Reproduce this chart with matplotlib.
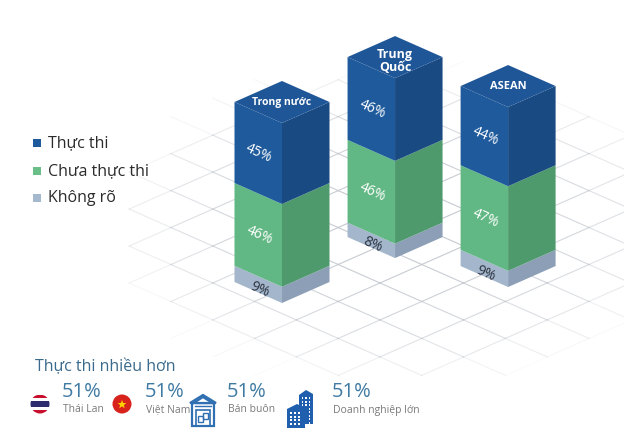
import numpy as np
import matplotlib
matplotlib.use('Agg')
import matplotlib.pyplot as plt
from matplotlib.patches import Polygon, Circle, Rectangle

plt.rcParams['font.family'] = ['Open Sans', 'DejaVu Sans']

# data
regions = ['Trong nước', 'Trung\nQuốc', 'ASEAN']
series = ['Thực thi', 'Chưa thực thi', 'Không rõ']
khong_ro = [9, 8, 9]
chua_thuc_thi = [46, 46, 47]
thuc_thi = [45, 46, 44]

more_labels = ['Thái Lan', 'Việt Nam', 'Bán buôn', 'Doanh nghiệp lớn']
more_values = [51, 51, 51, 51]

# ground position of each bar (isometric floor units)
bar_a = [0.0, 0.12, 2.0]
bar_b = [0.0, 2.26, 2.76]

# styles: (left face, right face, label colour)
face_colors = {
    'Không rõ': ('#a3b6cc', '#8c9fb6', '#2e3440'),
    'Chưa thực thi': ('#62b884', '#4f9a6d', '#ffffff'),
    'Thực thi': ('#1f5b9c', '#1a4a82', '#ffffff'),
}
top_color = '#1f5698'
legend_colors = ['#1f5b9c', '#6abf87', '#a5b8ce']

# isometric projection in pixel space
O = np.array([282.0, 303.0])
U = np.array([47.5, 21.0])
V = np.array([47.5, -21.0])
ZS = 1.8


def proj(a, b, z=0.0):
    p = O + a * U + b * V
    return (p[0], p[1] - z * ZS)


fig = plt.figure(figsize=(6.24, 4.38), dpi=100)
ax = fig.add_axes([0, 0, 1, 1])
ax.set_xlim(0, 624)
ax.set_ylim(438, 0)
ax.axis('off')

# faint floor grid
step = 0.88
a0, b0 = 0.555, 1.508
ks = np.arange(-8, 9)
cx, cy = 400, 225


def fade(x, y):
    d = ((x - cx) / 290) ** 2 + ((y - cy) / 160) ** 2
    return max(0.0, 1 - d) ** 0.8


for k in ks:
    for j in ks[:-1]:
        # lines of constant a
        p1 = proj(a0 + k * step, b0 + j * step)
        p2 = proj(a0 + k * step, b0 + (j + 1) * step)
        al = fade((p1[0] + p2[0]) / 2, (p1[1] + p2[1]) / 2)
        if al > 0.02:
            ax.plot([p1[0], p2[0]], [p1[1], p2[1]], color='#c3c8cf', lw=0.8, alpha=al, zorder=1)
        # lines of constant b
        p1 = proj(a0 + j * step, b0 + k * step)
        p2 = proj(a0 + (j + 1) * step, b0 + k * step)
        al = fade((p1[0] + p2[0]) / 2, (p1[1] + p2[1]) / 2)
        if al > 0.02:
            ax.plot([p1[0], p2[0]], [p1[1], p2[1]], color='#c3c8cf', lw=0.8, alpha=al, zorder=1)

# bars, back ones first
stack_order = [('Không rõ', khong_ro), ('Chưa thực thi', chua_thuc_thi), ('Thực thi', thuc_thi)]
order = sorted(range(len(regions)), key=lambda i: bar_a[i] - bar_b[i])
for i in order:
    a, b = bar_a[i], bar_b[i]
    z0 = 0.0
    for name, vals in stack_order:
        v = vals[i]
        z1 = z0 + v
        cl, cr, tc = face_colors[name]
        left = [proj(a - 1, b, z0), proj(a, b, z0), proj(a, b, z1), proj(a - 1, b, z1)]
        right = [proj(a, b, z0), proj(a, b + 1, z0), proj(a, b + 1, z1), proj(a, b, z1)]
        ax.add_patch(Polygon(left, closed=True, fc=cl, ec='none', zorder=3))
        ax.add_patch(Polygon(right, closed=True, fc=cr, ec='none', zorder=3))
        # label on left face
        f = 0.52
        zl = z0 + v / 2 if name != 'Không rõ' else z0 + v * 0.2
        lx, ly = proj(a - 1 + f, b, zl)
        ax.text(lx, ly, f'{v}%', color=tc, fontsize=10, rotation=-24,
                ha='center', va='center', rotation_mode='anchor', zorder=5)
        z0 = z1
    top = [proj(a - 1, b, z0), proj(a, b, z0), proj(a, b + 1, z0), proj(a - 1, b + 1, z0)]
    ax.add_patch(Polygon(top, closed=True, fc=top_color, ec='none', zorder=3))
    tx, ty = proj(a - 0.5, b + 0.5, z0)
    if '\n' in regions[i]:
        ty += 4
        fs = 9
    else:
        fs = 8 if len(regions[i]) < 8 else 7.5
    ax.text(tx, ty, regions[i], color='white', fontsize=fs, fontweight='bold',
            ha='center', va='center', linespacing=1.0, zorder=5)

# legend
leg_y = [143, 171, 198]
for name, col, y in zip(series, legend_colors, leg_y):
    ax.add_patch(Rectangle((33, y - 4.5), 8, 8, fc=col, ec='none', zorder=5))
    ax.text(48, y, name, fontsize=11.5, color='#2b2b2b', va='center', ha='left', zorder=5)

# bottom panel
ax.text(35, 367, 'Thực thi nhiều hơn', fontsize=11.5, color='#3a6a8c', va='center', ha='left')
val_x = [63, 146, 228, 333]
for x, v, lab in zip(val_x, more_values, more_labels):
    ax.text(x - 1, 392, f'{v}%', fontsize=14.5, color='#3f7aa3', va='center', ha='left')
    ax.text(x, 410, lab, fontsize=7.5, color='#7a7a7a', va='center', ha='left')

# Thai flag
c = Circle((40, 404), 9.5, transform=ax.transData)
ax.add_patch(Circle((40, 404), 9.5, fc='#ffffff', ec='none', zorder=4))
for y0, h, col in [(394.5, 3.2, '#c8102e'), (397.7, 3.2, '#ffffff'), (400.9, 6.3, '#2d2a6e'),
                   (407.2, 3.1, '#ffffff'), (410.3, 3.3, '#c8102e')]:
    r = Rectangle((30, y0), 20, h, fc=col, ec='none', zorder=5)
    ax.add_patch(r)
    r.set_clip_path(c)

# Vietnam flag
ax.add_patch(Circle((122, 404), 9.5, fc='#d8231d', ec='none', zorder=5))
ang = np.deg2rad(-90 + np.arange(10) * 36)
rad = np.where(np.arange(10) % 2 == 0, 4.6, 1.9)
ax.add_patch(Polygon(np.c_[122 + rad * np.cos(ang), 404.5 + rad * np.sin(ang)],
                     fc='#ffd200', ec='none', zorder=6))

# warehouse icon
wc = '#2f6fb2'
ax.add_patch(Polygon([(192, 404), (203, 397), (214, 404), (214, 426), (192, 426)],
                     fc='none', ec=wc, lw=1.6, zorder=5))
ax.add_patch(Polygon([(190, 403), (203, 395), (216, 403)], fc='none', ec=wc, lw=1.6, zorder=5))
for yy in [403, 406]:
    ax.plot([195, 211], [yy, yy], color=wc, lw=1.0, zorder=5)
ax.add_patch(Rectangle((196, 410), 14, 16, fc='none', ec=wc, lw=1.2, zorder=5))
ax.add_patch(Rectangle((198, 416), 5, 6, fc='none', ec=wc, lw=1.0, zorder=5))
ax.add_patch(Rectangle((203, 413), 5, 6, fc='none', ec=wc, lw=1.0, zorder=5))

# buildings icon
bc = '#1f5fae'
ax.add_patch(Polygon([(299, 395), (306, 390), (313, 394), (313, 424), (299, 424)], fc=bc, ec='none', zorder=5))
ax.add_patch(Polygon([(287, 409), (297, 404), (305, 408), (305, 428), (287, 428)], fc=bc, ec='none', zorder=6))
for wx in [301.5, 305, 308.5]:
    for wy in np.arange(397, 422, 3.5):
        if wx > 306 or wy < 405:
            ax.add_patch(Rectangle((wx, wy), 1.8, 2, fc='white', ec='none', zorder=7))
for wx in [290, 294, 298]:
    for wy in np.arange(412, 426, 3.5):
        ax.add_patch(Rectangle((wx, wy), 2, 2, fc='white', ec='none', zorder=7))

fig.savefig('out.png', dpi=100, facecolor='white')
